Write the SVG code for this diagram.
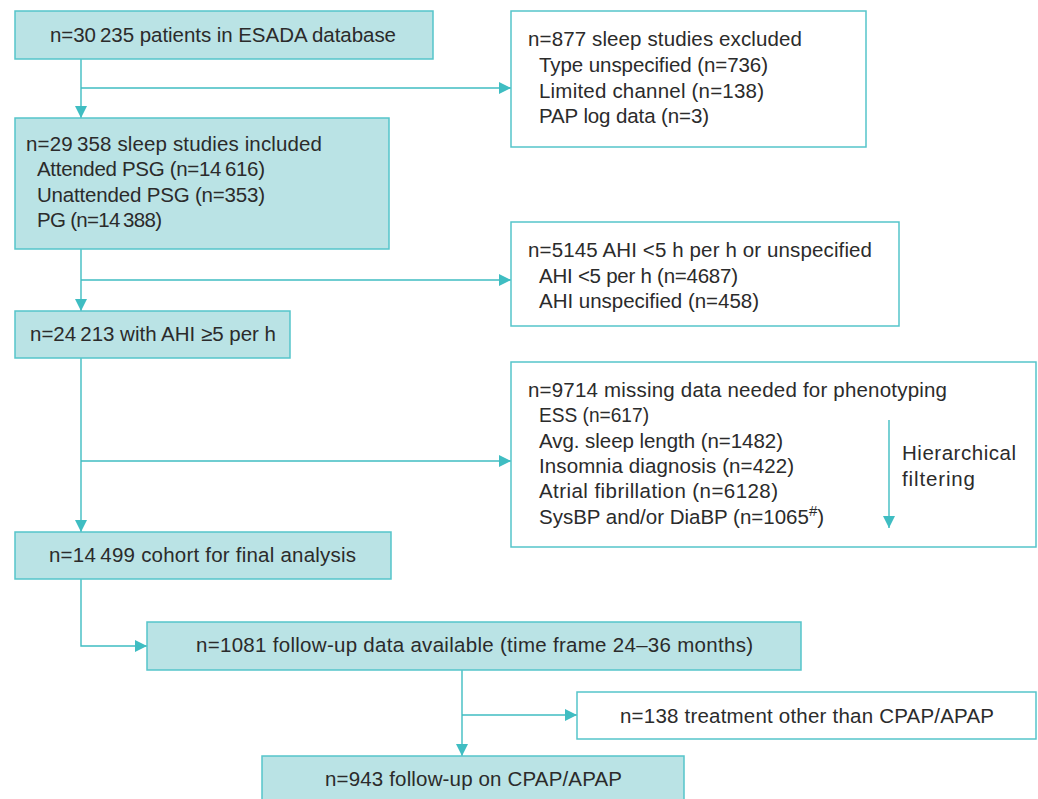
<svg xmlns="http://www.w3.org/2000/svg" width="1038" height="799" viewBox="0 0 1038 799">
<defs>
<style>
.fill{fill:#bae3e5;stroke:#55c5ca;stroke-width:1.5}
.open{fill:#ffffff;stroke:#55c5ca;stroke-width:1.5}
.t{font-family:"Liberation Sans",Arial,sans-serif;font-size:20.5px;fill:#2b2b2b}
.c{fill:none;stroke:#3fbdc2;stroke-width:1.4}
</style>
<marker id="ah" markerUnits="userSpaceOnUse" markerWidth="12" markerHeight="12" viewBox="0 0 12 12" refX="12" refY="6" orient="auto">
<path d="M0,0 L12,6 L0,12 z" fill="#3fbdc2"/>
</marker>
</defs>
<rect width="1038" height="799" fill="#ffffff"/>
<g id="connectors">
<path class="c" d="M81,59 V118" marker-end="url(#ah)"/>
<path class="c" d="M81,88 H511" marker-end="url(#ah)"/>
<path class="c" d="M81,249 V311" marker-end="url(#ah)"/>
<path class="c" d="M81,280 H511" marker-end="url(#ah)"/>
<path class="c" d="M81,358 V532" marker-end="url(#ah)"/>
<path class="c" d="M81,461 H511" marker-end="url(#ah)"/>
<path class="c" d="M81,579 V646 H147" marker-end="url(#ah)"/>
<path class="c" d="M462,670 V756" marker-end="url(#ah)"/>
<path class="c" d="M462,715 H577" marker-end="url(#ah)"/>
</g>
<g id="n1">
<rect class="fill" x="15" y="11" width="418" height="48"/>
<text class="t" x="50" y="42" textLength="346">n=30&#8201;235 patients in ESADA database</text>
</g>
<g id="n2">
<rect class="fill" x="15" y="118" width="374" height="131"/>
<text class="t" x="26" y="151" textLength="296">n=29&#8201;358 sleep studies included</text>
<text class="t" x="37" y="176" textLength="228">Attended PSG (n=14&#8201;616)</text>
<text class="t" x="37" y="202" textLength="228">Unattended PSG (n=353)</text>
<text class="t" x="37" y="227" textLength="125">PG (n=14&#8201;388)</text>
</g>
<g id="n3">
<rect class="fill" x="15" y="311" width="275" height="47"/>
<text class="t" x="30" y="341" textLength="246">n=24&#8201;213 with AHI ≥5 per h</text>
</g>
<g id="n4">
<rect class="fill" x="15" y="532" width="376" height="47"/>
<text class="t" x="49" y="562" textLength="307">n=14&#8201;499 cohort for final analysis</text>
</g>
<g id="n5">
<rect class="fill" x="147" y="622" width="654" height="48"/>
<text class="t" x="196" y="652" textLength="557">n=1081 follow-up data available (time frame 24–36 months)</text>
</g>
<g id="n6">
<rect class="fill" x="262" y="756" width="422" height="50"/>
<text class="t" x="325" y="786" textLength="297">n=943 follow-up on CPAP/APAP</text>
</g>
<g id="r1">
<rect class="open" x="511" y="11" width="355" height="136"/>
<text class="t" x="528" y="46" textLength="274">n=877 sleep studies excluded</text>
<text class="t" x="539" y="72" textLength="229">Type unspecified (n=736)</text>
<text class="t" x="539" y="98" textLength="225">Limited channel (n=138)</text>
<text class="t" x="539" y="123" textLength="170">PAP log data (n=3)</text>
</g>
<g id="r2">
<rect class="open" x="511" y="222" width="388" height="104"/>
<text class="t" x="528" y="257" textLength="344">n=5145 AHI &lt;5 h per h or unspecified</text>
<text class="t" x="539" y="283" textLength="199">AHI &lt;5 per h (n=4687)</text>
<text class="t" x="539" y="308" textLength="220">AHI unspecified (n=458)</text>
</g>
<g id="r3">
<rect class="open" x="511" y="362" width="525" height="185"/>
<text class="t" x="528" y="397" textLength="419">n=9714 missing data needed for phenotyping</text>
<text class="t" x="539" y="422" textLength="110" lengthAdjust="spacingAndGlyphs">ESS (n=617)</text>
<text class="t" x="539" y="448" textLength="244">Avg. sleep length (n=1482)</text>
<text class="t" x="539" y="473" textLength="255">Insomnia diagnosis (n=422)</text>
<text class="t" x="539" y="498" textLength="239">Atrial fibrillation (n=6128)</text>
<text class="t" x="539" y="524">SysBP and/or DiaBP (n=1065<tspan font-size="15" dy="-8">#</tspan><tspan dy="8">)</tspan></text>
<path class="c" d="M889,420 V528" marker-end="url(#ah)"/>
<text class="t" x="902" y="460" textLength="114">Hierarchical</text>
<text class="t" x="902" y="486" textLength="73">filtering</text>
</g>
<g id="r4">
<rect class="open" x="577" y="692" width="459" height="47"/>
<text class="t" x="620" y="723" textLength="374">n=138 treatment other than CPAP/APAP</text>
</g>
</svg>
